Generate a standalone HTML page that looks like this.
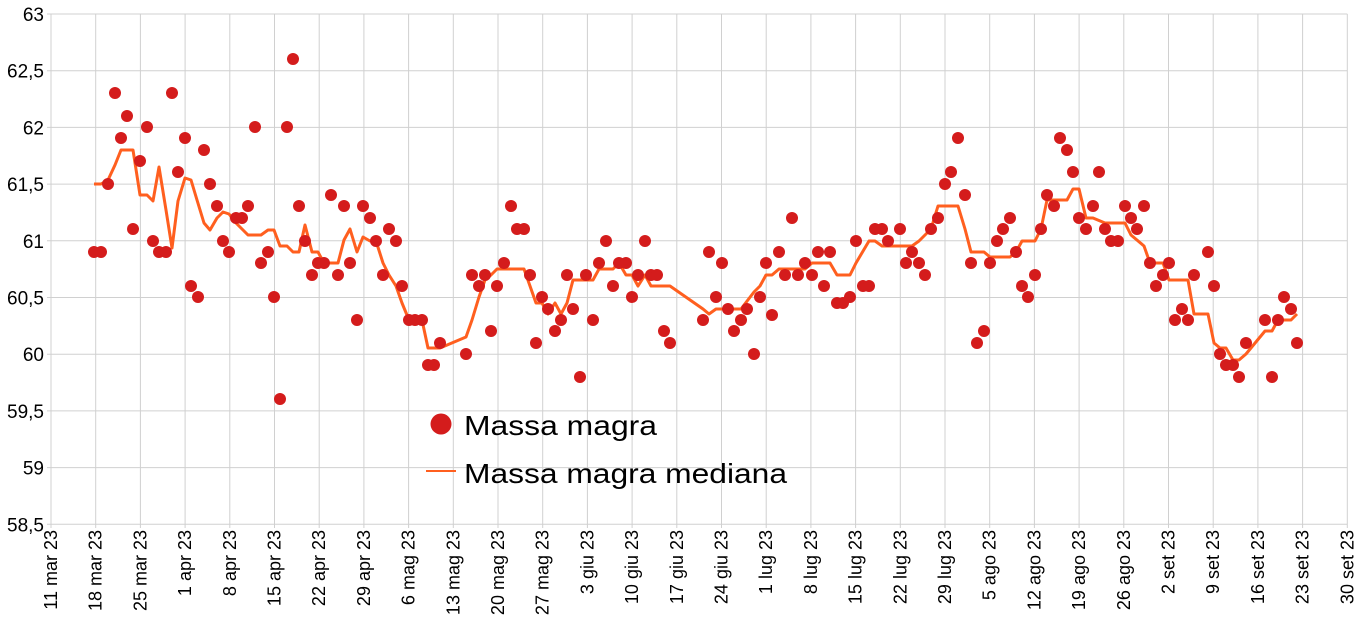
<!DOCTYPE html>
<html><head><meta charset="utf-8"><style>
html,body{margin:0;padding:0;background:#fff;}
svg{display:block;font-family:"Liberation Sans",Arial,sans-serif;}
</style></head><body>
<svg id="c" width="1364" height="626" viewBox="0 0 1364 626" xmlns="http://www.w3.org/2000/svg">
<g id="grid" stroke="#d0d0d0" stroke-width="1"></g>
<g id="labels" fill="#000"></g>
<polyline id="med" fill="none" stroke="#ff5f1f" stroke-width="3" stroke-linejoin="round"/>
<g id="dots" fill="#d41c1c"></g>
<circle cx="441" cy="424" r="10.5" fill="#d41c1c"/>
<text x="464" y="435" font-size="28" textLength="193" lengthAdjust="spacingAndGlyphs">Massa magra</text>
<line x1="426" y1="471" x2="456" y2="471" stroke="#ff5f1f" stroke-width="2"/>
<text x="464" y="483" font-size="28" textLength="323" lengthAdjust="spacingAndGlyphs">Massa magra mediana</text>
</svg>
<script>
var NS="http://www.w3.org/2000/svg";
function el(t,a,p,txt){var e=document.createElementNS(NS,t);for(var k in a)e.setAttribute(k,a[k]);if(txt)e.textContent=txt;p.appendChild(e);return e;}
var g=document.getElementById('grid'),L=document.getElementById('labels');
var x0=51,dx=44.7,y0=14,dy=56.7,xr=x0+29*dx;
var yl=["63","62,5","62","61,5","61","60,5","60","59,5","59","58,5"];
for(var i=0;i<10;i++){var y=y0+i*dy;el('line',{x1:x0-4,y1:y,x2:xr,y2:y},g);el('text',{x:44,y:y+7,'font-size':19,'text-anchor':'end'},L,yl[i]);}
var xl=["11 mar 23","18 mar 23","25 mar 23","1 apr 23","8 apr 23","15 apr 23","22 apr 23","29 apr 23","6 mag 23","13 mag 23","20 mag 23","27 mag 23","3 giu 23","10 giu 23","17 giu 23","24 giu 23","1 lug 23","8 lug 23","15 lug 23","22 lug 23","29 lug 23","5 ago 23","12 ago 23","19 ago 23","26 ago 23","2 set 23","9 set 23","16 set 23","23 set 23","30 set 23"];
for(var i=0;i<30;i++){var x=x0+i*dx;el('line',{x1:x,y1:y0,x2:x,y2:528},g);el('text',{x:0,y:0,'font-size':18,'text-anchor':'end',transform:'translate('+(x+6)+',530) rotate(-90)'},L,xl[i]);}
var D=[[94,252],[101,252],[108,184],[115,93],[121,138],[127,116],[133,229],[140,161],[147,127],[153,241],[159,252],[166,252],[172,93],[178,172],[185,138],[191,286],[198,297],[204,150],[210,184],[217,206],[223,241],[229,252],[236,218],[242,218],[248,206],[255,127],[261,263],[268,252],[274,297],[280,399],[287,127],[293,59],[299,206],[305,241],[312,275],[318,263],[324,263],[331,195],[338,275],[344,206],[350,263],[357,320],[363,206],[370,218],[376,241],[383,275],[389,229],[396,241],[402,286],[409,320],[415,320],[422,320],[428,365],[434,365],[440,343],[466,354],[472,275],[479,286],[485,275],[491,331],[497,286],[504,263],[511,206],[517,229],[524,229],[530,275],[536,343],[542,297],[548,309],[555,331],[561,320],[567,275],[573,309],[580,377],[586,275],[593,320],[599,263],[606,241],[613,286],[619,263],[626,263],[632,297],[638,275],[645,241],[651,275],[657,275],[664,331],[670,343],[703,320],[709,252],[716,297],[722,263],[728,309],[734,331],[741,320],[747,309],[754,354],[760,297],[766,263],[772,315],[779,252],[785,275],[792,218],[798,275],[805,263],[812,275],[818,252],[824,286],[830,252],[837,303],[843,303],[850,297],[856,241],[863,286],[869,286],[875,229],[882,229],[888,241],[900,229],[906,263],[912,252],[919,263],[925,275],[931,229],[938,218],[945,184],[951,172],[958,138],[965,195],[971,263],[977,343],[984,331],[990,263],[997,241],[1003,229],[1010,218],[1016,252],[1022,286],[1028,297],[1035,275],[1041,229],[1047,195],[1054,206],[1060,138],[1067,150],[1073,172],[1079,218],[1086,229],[1093,206],[1099,172],[1105,229],[1111,241],[1118,241],[1125,206],[1131,218],[1137,229],[1144,206],[1150,263],[1156,286],[1163,275],[1169,263],[1175,320],[1182,309],[1188,320],[1194,275],[1208,252],[1214,286],[1220,354],[1226,365],[1233,365],[1239,377],[1246,343],[1265,320],[1272,377],[1278,320],[1284,297],[1291,309],[1297,343]];
var dg=document.getElementById('dots');
D.forEach(function(p){el('circle',{cx:p[0],cy:p[1],r:6},dg);});
var M=[[94,184],[101,184],[108,180],[115,165],[121,150],[133,150],[140,195],[147,195],[153,201],[159,167],[166,210],[172,248],[178,201],[185,178],[191,180],[197,200],[204,223],[210,230],[217,218],[223,212],[229,214],[236,223],[242,229],[248,235],[261,235],[268,230],[274,230],[280,246],[287,246],[293,252],[299,252],[305,225],[312,252],[318,252],[324,263],[338,263],[344,240],[350,229],[357,252],[363,237],[370,241],[376,241],[383,263],[389,275],[396,286],[402,303],[409,320],[422,320],[428,348],[440,348],[466,337],[472,320],[479,297],[485,280],[491,275],[497,269],[524,269],[530,286],[536,303],[542,303],[548,314],[555,303],[561,314],[567,303],[573,280],[593,280],[599,269],[613,269],[619,263],[626,275],[632,275],[638,286],[645,275],[651,286],[670,286],[703,309],[709,314],[716,309],[741,309],[754,292],[760,286],[766,275],[772,275],[779,269],[805,269],[812,263],[830,263],[837,275],[850,275],[856,263],[869,241],[875,241],[882,246],[912,246],[919,241],[931,229],[938,206],[958,206],[965,229],[971,252],[984,252],[990,257],[1010,257],[1016,252],[1022,241],[1035,241],[1041,229],[1047,200],[1067,200],[1073,189],[1079,189],[1086,218],[1093,218],[1105,223],[1125,223],[1131,235],[1144,246],[1150,263],[1163,263],[1169,280],[1188,280],[1194,314],[1208,314],[1214,343],[1220,348],[1226,348],[1233,360],[1239,360],[1246,354],[1265,331],[1272,331],[1278,320],[1291,320],[1297,314]];
document.getElementById('med').setAttribute('points',M.map(function(p){return p.join(',');}).join(' '));
</script>
</body></html>
